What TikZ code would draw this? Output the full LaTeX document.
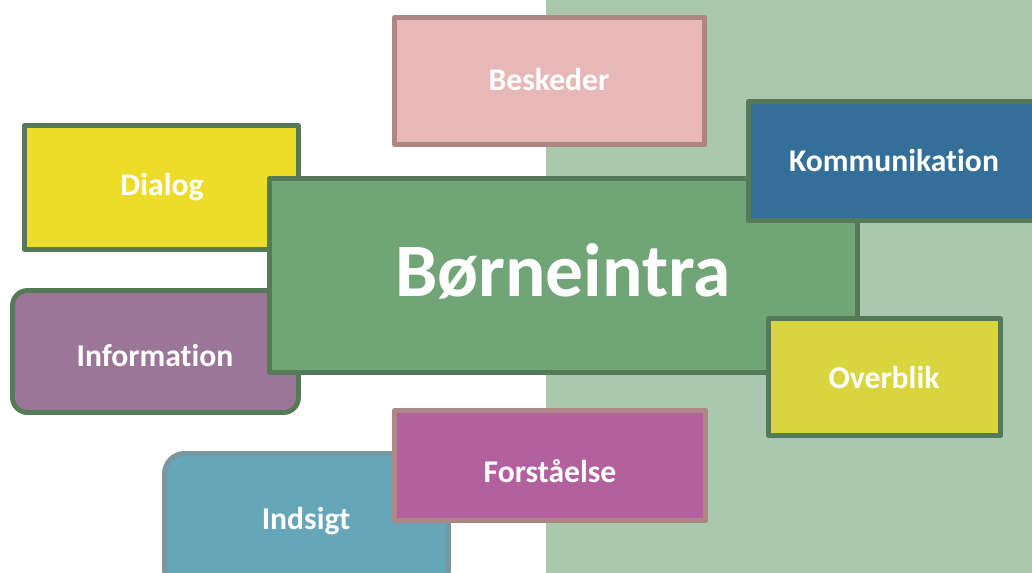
\documentclass[tikz,border=0pt]{standalone}
\usepackage{fontspec}
\setmainfont{Carlito}[Ligatures=NoCommon]
\definecolor{bgR}{HTML}{A9C8AD}
\definecolor{gborder}{HTML}{557A57}
\definecolor{pborder}{HTML}{AE8686}
\definecolor{iborder}{HTML}{7A96A0}
\definecolor{cBesk}{HTML}{E8B8B8}
\definecolor{cKomm}{HTML}{336F99}
\definecolor{cDial}{HTML}{EDDD2A}
\definecolor{cCent}{HTML}{71A477}
\definecolor{cInfo}{HTML}{9C7699}
\definecolor{cOver}{HTML}{D8D53F}
\definecolor{cFors}{HTML}{B2609E}
\definecolor{cInds}{HTML}{65A6B9}
\tikzset{
  box/.style={draw, line width=2.8pt, line join=round, rectangle, inner sep=0pt},
  lbl/.style={anchor=base, inner sep=0pt, text=white, font=\bfseries\fontsize{18}{21}\selectfont},
  biglbl/.style={anchor=base, inner sep=0pt, text=white, font=\bfseries\fontsize{43}{50}\selectfont},
}
\begin{document}
\begin{tikzpicture}[x=0.02cm, y=-0.02cm]
\path[use as bounding box] (0,0) rectangle (1032,573);
\clip (0,0) rectangle (1032,573);
\fill[white] (0,0) rectangle (546,573);
\fill[bgR] (546,0) rectangle (1032,573);
\node[box, draw=pborder, fill=cBesk, minimum width=6.2cm, minimum height=2.54cm] (besk) at (549.5,81) {};
\node[lbl] (beskT) at (549,90.5) {Beskeder};
\node[box, draw=gborder, fill=cDial, minimum width=5.48cm, minimum height=2.48cm] (dial) at (161.5,187.5) {};
\node[lbl] (dialT) at (162,196) {Dialog};
\node[box, draw=gborder, fill=cInfo, rounded corners=0.3cm, minimum width=5.72cm, minimum height=2.44cm] (info) at (155.5,351.5) {};
\node[lbl] (infoT) at (155,367) {Information};
\node[box, draw=iborder, fill=cInds, rounded corners=0.4cm, minimum width=5.68cm, minimum height=2.73cm] (inds) at (306.5,521.75) {};
\node[lbl] (indsT) at (306,530) {Indsigt};
\node[box, draw=pborder, fill=cFors, minimum width=6.22cm, minimum height=2.2cm] (fors) at (550,465.5) {};
\node[lbl] (forsT) at (550,483) {Forståelse};
\node[box, draw=gborder, fill=cCent, minimum width=11.76cm, minimum height=3.88cm] (cent) at (563.5,275.5) {};
\node[biglbl] (centT) at (563,297) {Børneintra};
\node[box, draw=gborder, fill=cKomm, minimum width=5.83cm, minimum height=2.38cm] (komm) at (894.25,161) {};
\node[lbl] (kommT) at (894,172) {Kommunikation};
\node[box, draw=gborder, fill=cOver, minimum width=4.64cm, minimum height=2.34cm] (over) at (884.5,377) {};
\node[lbl] (overT) at (884,389) {Overblik};
\end{tikzpicture}
\end{document}
